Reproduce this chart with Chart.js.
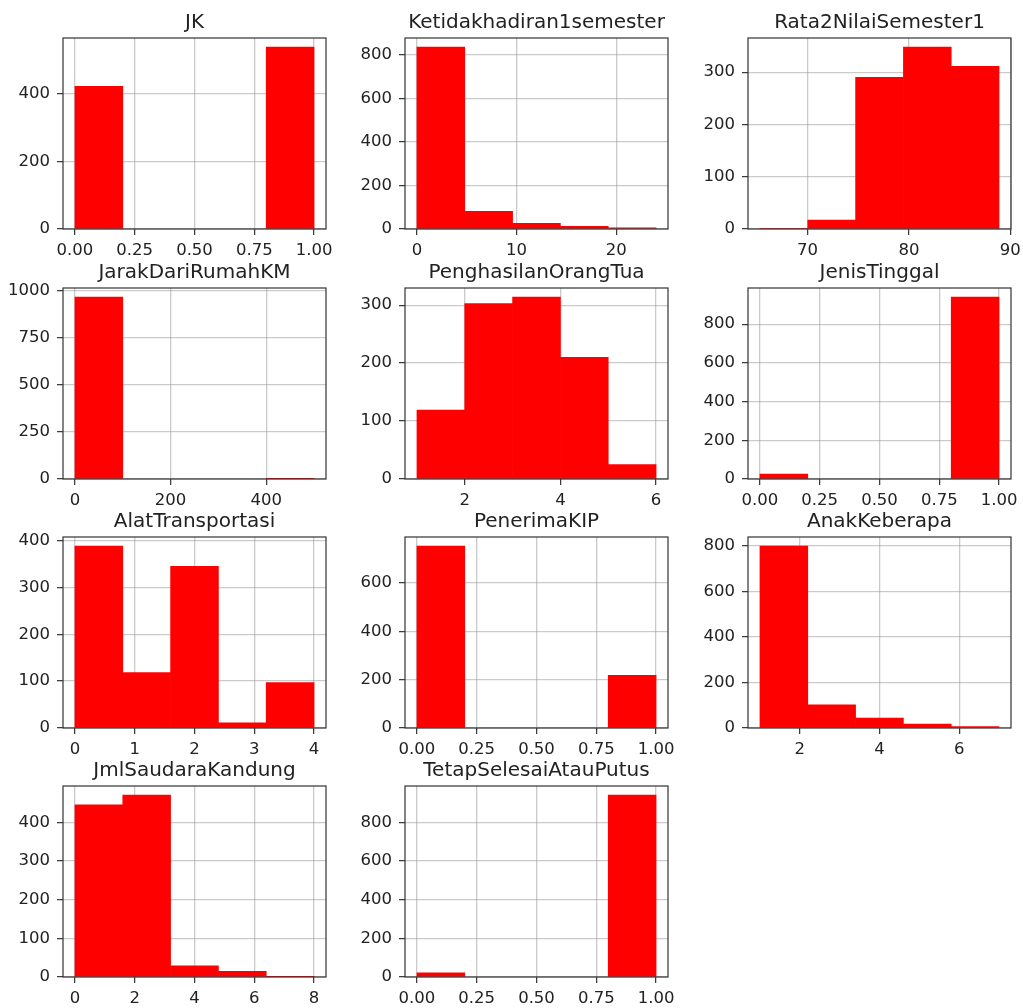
<!DOCTYPE html>
<html>
<head>
<meta charset="utf-8">
<script src="https://cdn.jsdelivr.net/npm/chart.js@4.4.0/dist/chart.umd.min.js"></script>
<style>
  html, body { margin: 0; padding: 0; background: #fff; overflow: hidden; }
  #wrap { position: relative; width: 1023px; height: 1008px; }
  canvas { position: absolute; }
</style>
</head>
<body>
<div id="wrap"></div>
<script>
// judul tiap histogram
const titles = ['JK', 'Ketidakhadiran1semester', 'Rata2NilaiSemester1', 'JarakDariRumahKM',
  'PenghasilanOrangTua', 'JenisTinggal', 'AlatTransportasi', 'PenerimaKIP', 'AnakKeberapa',
  'JmlSaudaraKandung', 'TetapSelesaiAtauPutus'];

// jumlah per bin (5 bin per kolom)
const jk = [423, 0, 0, 0, 539];
const ketidakhadiran = [835, 81, 26, 12, 5];
const rata2 = [1, 17, 290, 348, 311];
const jarak = [965, 0, 0, 0, 1];
const penghasilan = [119, 303, 314, 210, 25];
const jenisTinggal = [26, 0, 0, 0, 940];
const alat = [388, 118, 345, 11, 97];
const kip = [753, 0, 0, 0, 218];
const anak = [798, 102, 44, 17, 6];
const saudara = [446, 471, 29, 15, 1];
const tetap = [21, 0, 0, 0, 941];
const counts = [jk, ketidakhadiran, rata2, jarak, penghasilan, jenisTinggal, alat, kip, anak, saudara, tetap];

// nilai min / max tiap kolom (batas bin)
const binMin = [0, 0, 65.3, 0, 1, 0, 0, 0, 1, 0, 0];
const binMax = [1, 24, 88.9, 500, 6, 1, 4, 1, 7, 8, 1];

// tick
const xStep = [0.25, 10, 10, 200, 2, 0.25, 1, 0.25, 2, 2, 0.25];
const xDecimals = [2, 0, 0, 0, 0, 2, 0, 2, 0, 0, 2];
const yStep = [200, 200, 100, 250, 100, 200, 100, 200, 200, 100, 200];

// posisi grid subplot
const colLeft = [63, 405, 748];
const rowTop = [38, 288, 537, 786];
const plotW = 263, plotH = 191;
const padL = 62, padR = 30, padT = 38, padB = 34;

const fontFam = "'DejaVu Sans', sans-serif";
const ink = '#222';

// kotak sekeliling area plot
const bingkai = {
  id: 'bingkai',
  afterDraw(chart) {
    const a = chart.chartArea, ctx = chart.ctx;
    ctx.save();
    ctx.strokeStyle = '#333';
    ctx.lineWidth = 1.2;
    ctx.strokeRect(a.left, a.top, a.right - a.left, a.bottom - a.top);
    ctx.restore();
  }
};

// tick manual, kelipatan step di dalam rentang sumbu
function bikinTicks(s, step) {
  const out = [];
  let v = Math.ceil(s.min / step - 1e-9) * step;
  while (v <= s.max + 1e-9) {
    out.push({ value: Math.round(v * 1e6) / 1e6 });
    v += step;
  }
  s.ticks = out;
}

const wrap = document.getElementById('wrap');

titles.forEach((t, k) => {
  const c = k % 3, r = Math.floor(k / 3);
  const cv = document.createElement('canvas');
  cv.width = padL + plotW + padR;
  cv.height = padT + plotH + padB;
  cv.style.left = (colLeft[c] - padL) + 'px';
  cv.style.top = (rowTop[r] - padT) + 'px';
  cv.style.width = cv.width + 'px';
  cv.style.height = cv.height + 'px';
  wrap.appendChild(cv);

  const lo = binMin[k], hi = binMax[k];
  const w = (hi - lo) / counts[k].length;
  const pts = counts[k].map((v, i) => ({ x: lo + (i + 0.5) * w, y: v }));
  const span = hi - lo;
  const ymax = Math.max(...counts[k]) * 1.05;

  new Chart(cv, {
    type: 'bar',
    data: {
      datasets: [{
        data: pts,
        // bin kosong tidak digambar
        backgroundColor: ctx => (ctx.raw && ctx.raw.y > 0) ? '#ff0000' : 'rgba(0,0,0,0)',
        borderWidth: 0,
        barPercentage: 1,
        categoryPercentage: 1
      }]
    },
    options: {
      responsive: false,
      animation: false,
      devicePixelRatio: 1,
      layout: { padding: { left: 0, right: padR, top: 0, bottom: 0 } },
      plugins: {
        legend: { display: false },
        tooltip: { enabled: false },
        title: {
          display: true,
          text: t,
          fullSize: false,
          color: ink,
          font: { family: fontFam, size: 20, weight: 'normal', lineHeight: 1.2 },
          padding: { top: 11, bottom: 3 }
        }
      },
      scales: {
        x: {
          type: 'linear',
          offset: false,
          z: 1,
          min: lo - 0.05 * span,
          max: hi + 0.05 * span,
          border: { display: false },
          grid: { offset: false, color: 'rgba(150,150,150,0.5)', lineWidth: 1.3,
                  tickColor: '#333', tickLength: 6, tickWidth: 1.2 },
          ticks: {
            maxRotation: 0,
            autoSkip: false,
            padding: 6,
            color: ink,
            font: { family: fontFam, size: 16.5 },
            callback: v => Number(v).toFixed(xDecimals[k])
          },
          afterBuildTicks: s => bikinTicks(s, xStep[k]),
          afterFit: s => { s.height = padB; }
        },
        y: {
          z: 1,
          min: 0,
          max: ymax,
          border: { display: false },
          grid: { color: 'rgba(150,150,150,0.5)', lineWidth: 1.3,
                  tickColor: '#333', tickLength: 6, tickWidth: 1.2 },
          ticks: {
            padding: 7,
            color: ink,
            font: { family: fontFam, size: 16.5 },
            callback: v => String(v)
          },
          afterBuildTicks: s => bikinTicks(s, yStep[k]),
          afterFit: s => { s.width = padL; }
        }
      }
    },
    plugins: [bingkai]
  });
});
</script>
</body>
</html>
